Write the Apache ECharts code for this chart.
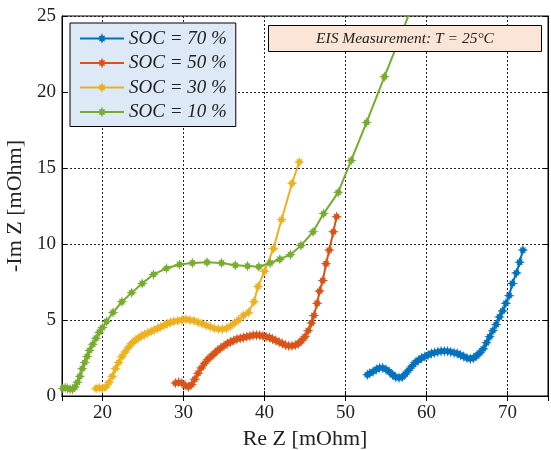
<!DOCTYPE html>
<html>
<head>
<meta charset="utf-8">
<script src="https://cdn.jsdelivr.net/npm/echarts@6/dist/echarts.min.js"></script>
<style>
html,body{margin:0;padding:0;background:#fff;}
#chart{width:551px;height:450px;}
</style>
</head>
<body>
<div id="chart"></div>
<script>
// ---- data ----
const seriesNames = ['SOC = 70 %', 'SOC = 50 %', 'SOC = 30 %', 'SOC = 10 %'];
const xTicks = [20, 30, 40, 50, 60, 70];
const yTicks = [0, 5, 10, 15, 20, 25];

const soc70Re = [52.7,53.0,53.4,53.8,54.2,54.6,55.0,55.4,55.8,56.2,56.6,57.0,57.4,57.8,58.2,58.6,59.0,59.4,59.8,60.2,60.6,61.0,61.4,61.8,62.2,62.6,63.0,63.4,63.8,64.2,64.6,65.0,65.4,65.8,66.2,66.6,67.0,67.4,67.8,68.2,68.6,69.0,69.4,69.8,70.2,70.6,71.1,71.5,71.9];
const soc70Im = [1.4,1.5,1.6,1.75,1.85,1.85,1.75,1.6,1.4,1.25,1.2,1.25,1.45,1.7,1.95,2.2,2.35,2.5,2.6,2.7,2.8,2.85,2.9,2.95,2.95,2.95,2.9,2.85,2.8,2.7,2.6,2.5,2.45,2.5,2.65,2.85,3.1,3.5,3.9,4.3,4.7,5.2,5.6,6.1,6.6,7.4,8.1,8.8,9.6];

const soc50Re = [29.0,29.4,29.8,30.2,30.6,31.0,31.4,31.8,32.2,32.6,33.0,33.4,33.8,34.2,34.6,35.0,35.4,35.8,36.2,36.6,37.0,37.4,37.8,38.2,38.6,39.0,39.4,39.8,40.2,40.6,41.0,41.4,41.8,42.2,42.6,43.0,43.4,43.8,44.2,44.6,45.0,45.4,45.8,46.1,46.5,46.8,47.2,47.6,48.0,48.5,48.9];
const soc50Im = [0.85,0.9,0.85,0.7,0.6,0.75,1.1,1.5,1.85,2.15,2.4,2.6,2.8,3.0,3.15,3.3,3.45,3.55,3.65,3.75,3.8,3.85,3.9,3.95,4.0,4.0,4.0,3.95,3.9,3.85,3.75,3.65,3.55,3.45,3.35,3.3,3.3,3.35,3.45,3.65,3.9,4.3,4.8,5.3,6.1,6.9,7.6,8.7,9.6,10.8,11.8];

const soc30Re = [19.2,19.6,20.0,20.4,20.8,21.2,21.6,22.0,22.4,22.8,23.2,23.6,24.0,24.4,24.8,25.2,25.6,26.0,26.4,26.8,27.2,27.6,28.0,28.4,28.8,29.3,29.8,30.3,30.8,31.3,31.8,32.3,32.8,33.3,33.8,34.3,34.8,35.3,35.8,36.3,36.8,37.4,38.0,38.7,39.2,40.0,41.1,42.1,43.4,44.3];
const soc30Im = [0.5,0.55,0.5,0.6,0.9,1.3,1.8,2.2,2.6,2.9,3.2,3.45,3.65,3.8,3.95,4.05,4.15,4.25,4.35,4.45,4.55,4.65,4.75,4.85,4.9,4.95,5.0,5.05,5.0,4.95,4.85,4.75,4.65,4.55,4.45,4.4,4.4,4.45,4.6,4.8,5.0,5.3,5.5,6.2,7.2,8.2,9.7,11.6,14.0,15.4];

const soc10Re = [15.1,15.4,15.7,16.0,16.3,16.6,16.9,17.2,17.5,17.8,18.1,18.4,18.8,19.2,19.6,20.0,20.5,21.3,22.4,23.6,24.9,26.3,27.9,29.5,31.1,32.9,34.7,36.4,37.9,39.3,40.7,41.9,43.2,44.5,46.0,47.3,49.1,50.7,52.6,54.8,56.9,58.8];
const soc10Im = [0.5,0.55,0.5,0.45,0.45,0.6,0.9,1.3,1.8,2.2,2.6,3.0,3.4,3.8,4.2,4.5,4.9,5.5,6.2,6.8,7.4,8.0,8.4,8.65,8.75,8.8,8.75,8.6,8.55,8.5,8.75,9.0,9.3,9.9,10.8,12.0,13.4,15.5,18.0,21.0,23.8,26.5];

const colors = ['#0072BD', '#D95319', '#EDB120', '#77AC30'];
const seriesRe = [soc70Re, soc50Re, soc30Re, soc10Re];
const seriesIm = [soc70Im, soc50Im, soc30Im, soc10Im];

const starPath = 'path://M10,0 L4.43,1.84 L5.3,5.3 L1.84,4.43 L0,10 L-1.84,4.43 L-5.3,5.3 L-4.43,1.84 L-10,0 L-4.43,-1.84 L-5.3,-5.3 L-1.84,-4.43 L0,-10 L1.84,-4.43 L5.3,-5.3 L4.43,-1.84 Z';
const serif = '"Liberation Serif", "Times New Roman", serif';

const chart = echarts.init(document.getElementById('chart'), null, {renderer: 'canvas'});

const series = seriesNames.map((name, i) => ({
  name: name,
  type: 'line',
  data: seriesRe[i].map((x, k) => [x, seriesIm[i][k]]),
  symbol: starPath,
  symbolSize: 11,
  showAllSymbol: true,
  clip: true,
  lineStyle: {color: colors[i], width: 2},
  itemStyle: {color: colors[i]},
  emphasis: {disabled: true},
  animation: false,
  z: 2
}));

const tickFmt = (ticks) => (v) => ticks.indexOf(Math.round(v * 1000) / 1000) >= 0 ? String(v) : '';

chart.setOption({
  backgroundColor: '#fff',
  animation: false,
  title: {
    text: 'EIS Measurement: T = 25°C',
    left: 268, top: 25,
    padding: [6, 48, 5, 48],
    backgroundColor: '#fbe5d6',
    borderColor: '#000', borderWidth: 1,
    textStyle: {fontFamily: serif, fontStyle: 'italic', fontWeight: 'normal', fontSize: 15.5, color: '#222', lineHeight: 16},
    z: 100
  },
  grid: {left: 62, right: 3, top: 16, bottom: 54, outerBoundsMode: 'none', containLabel: false, show: true, borderColor: '#000', borderWidth: 1, backgroundColor: 'transparent'},
  legend: {
    orient: 'vertical',
    left: 70, top: 23,
    data: seriesNames,
    itemWidth: 44, itemHeight: 14, itemGap: 5.5,
    padding: [6, 9, 5, 9],
    backgroundColor: '#dde9f7',
    borderColor: '#000', borderWidth: 1,
    textStyle: {fontFamily: serif, fontStyle: 'italic', fontSize: 19, color: '#222'},
    selectedMode: false,
    z: 100
  },
  xAxis: [{
    type: 'value', min: 15, max: 75, splitNumber: 6,
    name: 'Re Z [mOhm]', nameLocation: 'middle', nameGap: 30,
    nameTextStyle: {fontFamily: serif, fontSize: 22, color: '#222'},
    axisLine: {show: true, lineStyle: {color: '#000', width: 1}},
    axisTick: {show: true, inside: true, length: 5, lineStyle: {color: '#000'}},
    axisLabel: {fontFamily: serif, fontSize: 19, color: '#222', margin: 8, showMinLabel: false, showMaxLabel: false, formatter: tickFmt(xTicks)},
    splitLine: {show: true, lineStyle: {color: '#222', type: [2, 2], width: 1}}
  }, {
    type: 'value', min: 15, max: 75, splitNumber: 6, position: 'top',
    axisLine: {show: true, lineStyle: {color: '#000'}},
    axisTick: {show: true, inside: true, length: 5, lineStyle: {color: '#000'}},
    axisLabel: {show: false}, splitLine: {show: false}
  }],
  yAxis: [{
    type: 'value', min: 0, max: 25, interval: 5,
    name: '-Im Z [mOhm]', nameLocation: 'middle', nameGap: 30,
    nameTextStyle: {fontFamily: serif, fontSize: 22, color: '#222'},
    axisLine: {show: true, lineStyle: {color: '#000'}},
    axisTick: {show: true, inside: true, length: 5, lineStyle: {color: '#000'}},
    axisLabel: {fontFamily: serif, fontSize: 19, color: '#222', margin: 6, formatter: tickFmt(yTicks)},
    splitLine: {show: true, lineStyle: {color: '#222', type: [2, 2], width: 1}}
  }, {
    type: 'value', min: 0, max: 25, interval: 5, position: 'right',
    axisLine: {show: true, lineStyle: {color: '#000'}},
    axisTick: {show: true, inside: true, length: 5, lineStyle: {color: '#000'}},
    axisLabel: {show: false}, splitLine: {show: false}
  }],
  series: series
});
</script>
</body>
</html>
